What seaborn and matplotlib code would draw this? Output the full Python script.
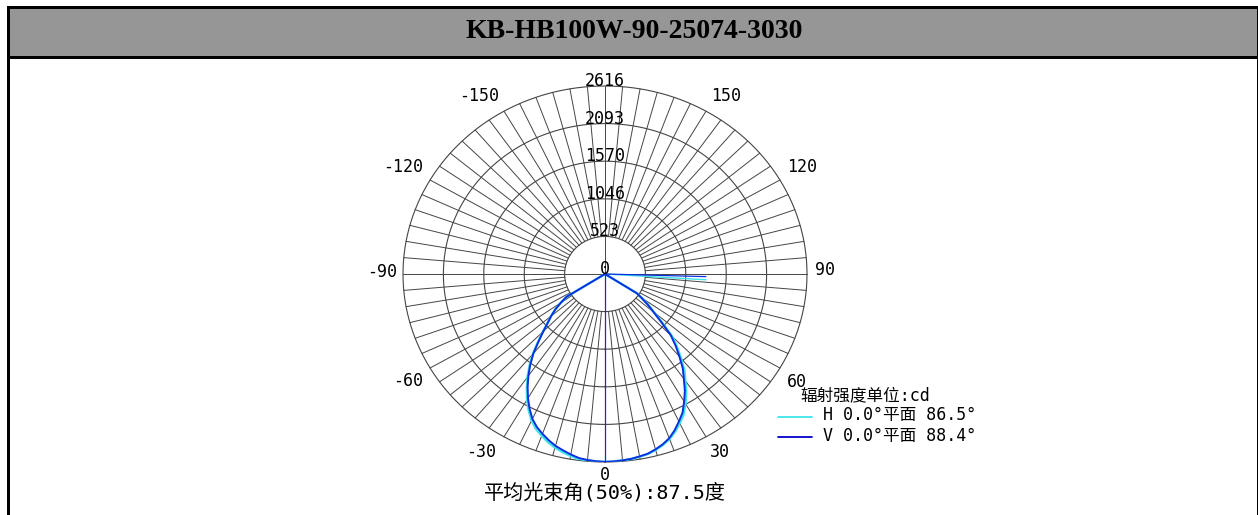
import numpy as np
import pandas as pd
import matplotlib
matplotlib.use("Agg")
import matplotlib.pyplot as plt
from matplotlib.patches import Rectangle
from matplotlib.lines import Line2D
import seaborn as sns

# ---------------- data ----------------
TITLE = "KB-HB100W-90-25074-3030"
ANGLES = [-57.5, -55, -52.5, -50, -47.5, -45, -42.5, -40, -37.5, -35, -32.5, -30,
          -27.5, -25, -22.5, -20, -17.5, -15, -12.5, -10, -7.5, -5, -2.5, 0,
          2.5, 5, 7.5, 10, 12.5, 15, 17.5, 20, 22.5, 25, 27.5, 30,
          32.5, 35, 37.5, 40, 42.5, 45, 47.5, 50, 52.5, 55, 57]
H_VALUES = [590, 700, 812, 910, 1010, 1140, 1285, 1455, 1605, 1750, 1885, 2020,
            2140, 2250, 2335, 2395, 2455, 2500, 2540, 2570, 2598, 2606, 2612, 2616,
            2612, 2606, 2598, 2582, 2566, 2535, 2495, 2445, 2375, 2290, 2205, 2085,
            1960, 1815, 1690, 1530, 1385, 1235, 1010, 830, 705, 580, 495]
V_VALUES = [590, 700, 812, 910, 1005, 1130, 1275, 1442, 1590, 1730, 1865, 1995,
            2115, 2225, 2305, 2367, 2425, 2476, 2513, 2550, 2583, 2598, 2608, 2614,
            2610, 2603, 2594, 2578, 2561, 2527, 2485, 2432, 2355, 2265, 2175, 2050,
            1925, 1780, 1655, 1500, 1355, 1205, 987, 817, 696, 574, 490]
BEAM_H = 86.5
BEAM_V = 88.4
RINGS = [523, 1046, 1570, 2093, 2616]
RING_LABELS = ["523", "1046", "1570", "2093", "2616"]
THETA_TICKS = [0, 30, 60, 90, 120, 150, -150, -120, -90, -60, -30]
THETA_LABELS = ["0", "30", "60", "90", "120", "150", "-150", "-120", "-90", "-60", "-30"]
UNIT_TEXT = "辐射强度单位:cd"
LEGEND_H = "H 0.0°平面 86.5°"
LEGEND_V = "V 0.0°平面 88.4°"
BOTTOM_TEXT = "平均光束角(50%):87.5度"

# label offsets in pixels (right, down) from the outer ring
LABEL_OFFSETS = {0: (0, 13), 30: (14, 15), 60: (17, 14), 90: (18, -4),
                 120: (22, -13), 150: (20, -15), -150: (-25, -15), -120: (-27, -13),
                 -90: (-21, -2), -60: (-22, 13), -30: (-23, 15)}

C_H = "#3fe3ea"
C_V = "#0b2fe0"
GRID_C = "#454545"

sns.set_style("white")
plt.rcParams["font.family"] = ["DejaVu Sans Mono", "Noto Sans CJK SC"]

W, H = 1258, 515
fig = plt.figure(figsize=(W / 100, H / 100), dpi=100)
fig.patch.set_facecolor("white")


def fx(px):
    return px / W


def fy(py):
    return (H - py) / H


# frame and title band
fig.add_artist(Rectangle((fx(9), fy(56)), fx(1248), 47 / H, transform=fig.transFigure,
                         facecolor="#969696", edgecolor="none"))
fig.add_artist(Rectangle((fx(7), fy(9)), fx(1251), 3 / H, transform=fig.transFigure,
                         facecolor="black", edgecolor="none"))
fig.add_artist(Rectangle((fx(7), fy(59)), fx(1251), 3 / H, transform=fig.transFigure,
                         facecolor="black", edgecolor="none"))
fig.add_artist(Rectangle((fx(7), 0), fx(3), fy(6), transform=fig.transFigure,
                         facecolor="black", edgecolor="none"))
fig.add_artist(Rectangle((fx(1256.5), 0), fx(1.5), fy(6), transform=fig.transFigure,
                         facecolor="black", edgecolor="none"))
fig.text(fx(634), fy(32), TITLE, ha="center", va="center", fontsize=20,
         fontweight="bold", family=["Liberation Serif", "DejaVu Serif"], color="black")

# polar axes (stretched horizontally like the reference)
cx, cy, rx, ry = 605, 274, 202, 188
ax = fig.add_axes([fx(cx - rx), fy(cy + ry), 2 * rx / W, 2 * ry / H], projection="polar")
ax.set_aspect("auto")
ax.set_theta_zero_location("S")
ax.set_theta_direction(1)
ax.set_facecolor("white")
ax.grid(False)
ax.spines["polar"].set_visible(False)

RMAX = RINGS[-1]
full = np.linspace(0, 2 * np.pi, 721)
for r in RINGS:
    ax.plot(full, np.full_like(full, r), color=GRID_C, lw=0.8, clip_on=False, zorder=1)
for a in range(0, 360, 5):
    t = np.deg2rad(a)
    r0 = 0 if a % 90 == 0 else RINGS[0]
    ax.plot([t, t], [r0, RMAX], color=GRID_C, lw=0.7, clip_on=False, zorder=1)


# curves
def series_frame(angles, values, name):
    th = [angles[0]] + list(angles) + [angles[-1]]
    rr = [0] + list(values) + [0]
    return pd.DataFrame({"theta": np.deg2rad(th), "r": rr, "plane": name})


dfH = series_frame(ANGLES, H_VALUES, "H")
dfV = series_frame(ANGLES, V_VALUES, "V")
sns.lineplot(data=dfH, x="theta", y="r", sort=False, estimator=None, color=C_H,
             lw=1.7, ax=ax, zorder=3)
sns.lineplot(data=dfV, x="theta", y="r", sort=False, estimator=None, color=C_V,
             lw=1.4, ax=ax, zorder=4)
# half-maximum beam-angle spikes and V axis line
ax.plot([np.deg2rad(BEAM_H)] * 2, [0, max(H_VALUES) / 2], color=C_H, lw=1.0, zorder=3)
ax.plot([np.deg2rad(BEAM_V)] * 2, [0, max(V_VALUES) / 2], color=C_V, lw=0.9, zorder=4)
ax.plot([0, 0], [0, V_VALUES[ANGLES.index(0)]], color=C_V, lw=0.9, zorder=4)

ax.set_xticks([])
ax.set_yticks([])
ax.set_xlabel("")
ax.set_ylabel("")
ax.set_ylim(0, RMAX)

# radial labels along the top spoke
for r, lab in zip(RINGS, RING_LABELS):
    ax.text(np.pi, r, lab, ha="center", va="baseline", fontsize=12, color="black", zorder=5)
ax.text(np.pi, 0, "0", ha="center", va="baseline", fontsize=12, color="black", zorder=5)

# angle labels
for a, lab in zip(THETA_TICKS, THETA_LABELS):
    ox, oy = LABEL_OFFSETS[a]
    ax.annotate(lab, xy=(np.deg2rad(a), RMAX), xytext=(ox, -oy), textcoords="offset pixels",
                ha="center", va="center", fontsize=12, color="black", annotation_clip=False)

# legend block
fig.text(fx(800), fy(395), UNIT_TEXT, ha="left", va="center", fontsize=12, color="black")
fig.text(fx(823), fy(415), LEGEND_H, ha="left", va="center", fontsize=12, color="black")
fig.text(fx(823), fy(436), LEGEND_V, ha="left", va="center", fontsize=12, color="black")
fig.add_artist(Line2D([fx(778), fx(812)], [fy(417), fy(417)], transform=fig.transFigure,
                      color=C_H, lw=1.3))
fig.add_artist(Line2D([fx(778), fx(812)], [fy(437), fy(437)], transform=fig.transFigure,
                      color="#0000c8", lw=1.3))

fig.text(fx(605), fy(493), BOTTOM_TEXT, ha="center", va="center", fontsize=14.5, color="black")

fig.savefig("out.png", dpi=100, facecolor="white")
